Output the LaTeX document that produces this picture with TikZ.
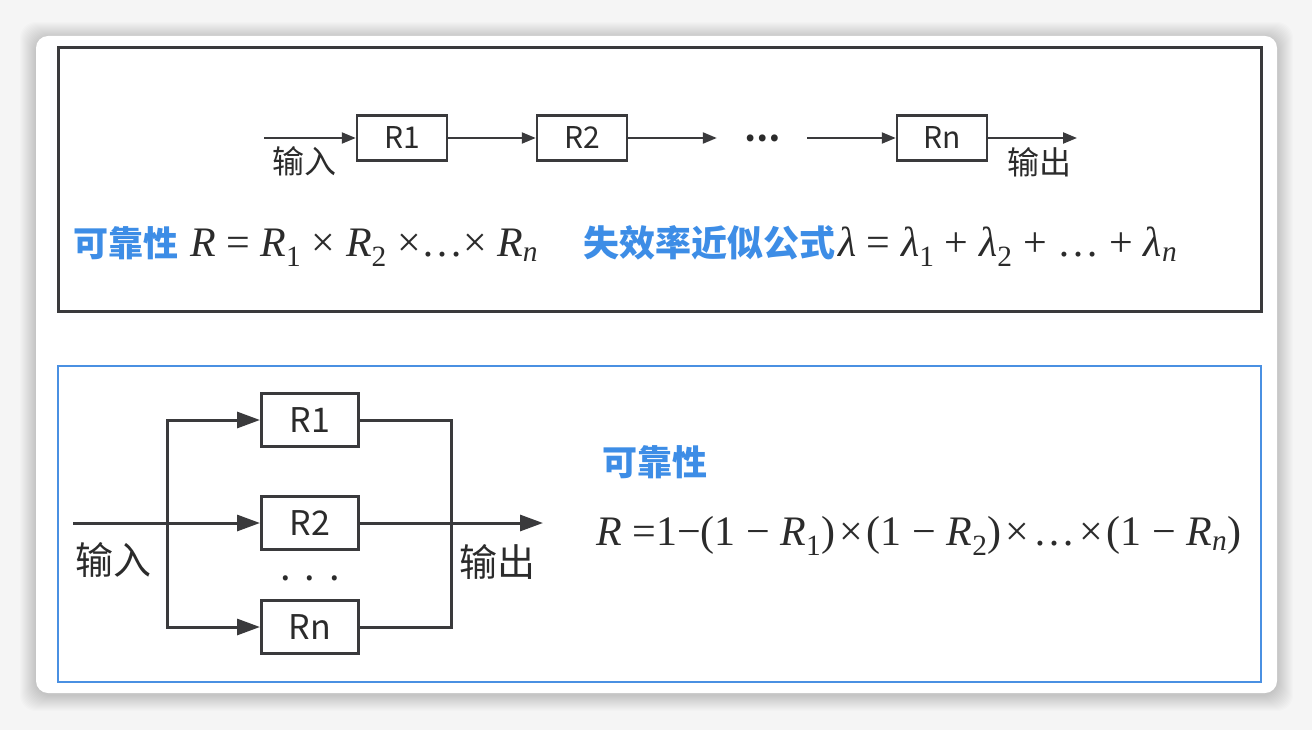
\documentclass[tikz,border=0pt]{standalone}
\usepackage{fontspec}
\setmainfont{Liberation Serif}
\newfontfamily\cjk{Noto Sans CJK SC}
\usetikzlibrary{arrows.meta}
\usetikzlibrary{positioning}
\definecolor{linegray}{HTML}{3A3A3C}
\definecolor{textgray}{HTML}{2B2B2B}
\definecolor{labelblue}{HTML}{3D8DE6}
\definecolor{frameblue}{HTML}{4A90E2}
\definecolor{bggray}{HTML}{F5F5F5}
\tikzstyle{base} = [rectangle, draw=linegray, line width=2.5pt, text=textgray, font=\cjk\fontsize{30}{30}\selectfont]
\tikzstyle{unit} = [base, minimum width=90pt, minimum height=45pt]
\tikzstyle{punit} = [base, line width=3pt, minimum width=97pt, minimum height=53pt, font=\cjk\fontsize{34}{34}\selectfont]
\tikzstyle{io} = [text=textgray, inner sep=0pt, font=\cjk\fontsize{32}{32}\selectfont]
\tikzstyle{pio} = [io, font=\cjk\fontsize{38}{38}\selectfont]
\tikzstyle{flow} = [draw=linegray, line width=2.2pt, -{Triangle[length=14pt, width=11pt]}]
\tikzstyle{pflow} = [draw=linegray, line width=3pt, -{Triangle[length=23pt, width=16pt]}]
\tikzstyle{wire} = [draw=linegray, line width=3pt]
\tikzstyle{formula} = [text=textgray, inner sep=0pt, font=\fontsize{42}{42}\selectfont]
\tikzstyle{keyword} = [text=labelblue, inner sep=0pt, font=\cjk\bfseries\fontsize{35}{35}\selectfont]
\newcommand{\Rsub}[1]{\textit{R}\textsubscript{#1}}
\newcommand{\Lsub}[1]{\textit{λ}\textsubscript{#1}}
\newcommand{\kw}[2]{{\color{labelblue}\cjk\bfseries\fontsize{#1}{#1}\selectfont #2}}
\newcommand{\tm}{\kern4pt×\kern4pt}

\begin{document}
\begin{tikzpicture}[x=1pt, y=-1pt, node distance=180pt]
    \useasboundingbox (0,0) rectangle (1312,730);
    \fill[bggray] (0,0) rectangle (1312,730);
    \foreach \s in {1,...,16}
        \fill[black, opacity=0.01, rounded corners=16pt] (36-\s,38-\s) rectangle (1277+\s,695+\s);
    \fill[white, rounded corners=12pt] (36,36) rectangle (1277,693);
    \draw[linegray, line width=3pt] (58,48) rectangle (1261,311);
    \draw[frameblue, line width=2.5pt] (58,366) rectangle (1261,682);

    \coordinate (in1) at (264,138);
    \node (r1) [unit] at (402,138) {R1};
    \node (r2) [unit, right of=r1] {R2};
    \node (gap) [io, minimum width=90pt, right of=r2] {\bfseries …};
    \node (rn) [unit, right of=gap] {Rn};
    \coordinate (out1) at (1077,138);
    \node (inlbl) [io] at (304,161) {输入};
    \node (outlbl) [io] at (1039,162) {输出};
    \node (rel1) [formula, anchor=base west] at (73,256) {\kw{35}{可靠性}\hspace{12pt}\textit{R} = \Rsub{1} × \Rsub{2} ×…× \Rsub{\textit{n}}};
    \node (fail1) [formula, anchor=base west] at (583,256) {\kw{36}{失效率近似公式}\hspace{3pt}\textit{λ} = \Lsub{1} + \Lsub{2} + … + \Lsub{\textit{n}}};

    \coordinate (in2) at (73,523);
    \coordinate (split) at (167,523);
    \node (p1) [punit] at (310,420) {R1};
    \node (p2) [punit, node distance=103pt, below of=p1] {R2};
    \node (pdots) [pio, node distance=55pt, below of=p2] {.\hspace{14pt}.\hspace{14pt}.};
    \node (pn) [punit, node distance=104pt, below of=p2] {Rn};
    \coordinate (join) at (451,523);
    \coordinate (out2) at (543,523);
    \node (inlbl2) [pio] at (113,560) {输入};
    \node (outlbl2) [pio] at (497,562) {输出};
    \node (rel2) [keyword] at (655,462) {可靠性};
    \node (f2) [formula, anchor=base west] at (596,545) {\textit{R} =1−(1 − \Rsub{1})\tm(1 − \Rsub{2})\tm…\tm(1 − \Rsub{\textit{n}})};

    \draw[flow] (in1) -- (r1);
    \draw[flow] (r1) -- (r2);
    \draw[flow] (r2) -- (gap);
    \draw[flow] (gap) -- (rn);
    \draw[flow] (rn) -- (out1);
    \draw[pflow] (in2) -- (p2);
    \draw[pflow] (split) |- (p1);
    \draw[pflow] (split) |- (pn);
    \draw[wire] (p1) -| (join);
    \draw[wire] (pn) -| (join);
    \draw[pflow] (p2) -- (out2);
\end{tikzpicture}
\end{document}
